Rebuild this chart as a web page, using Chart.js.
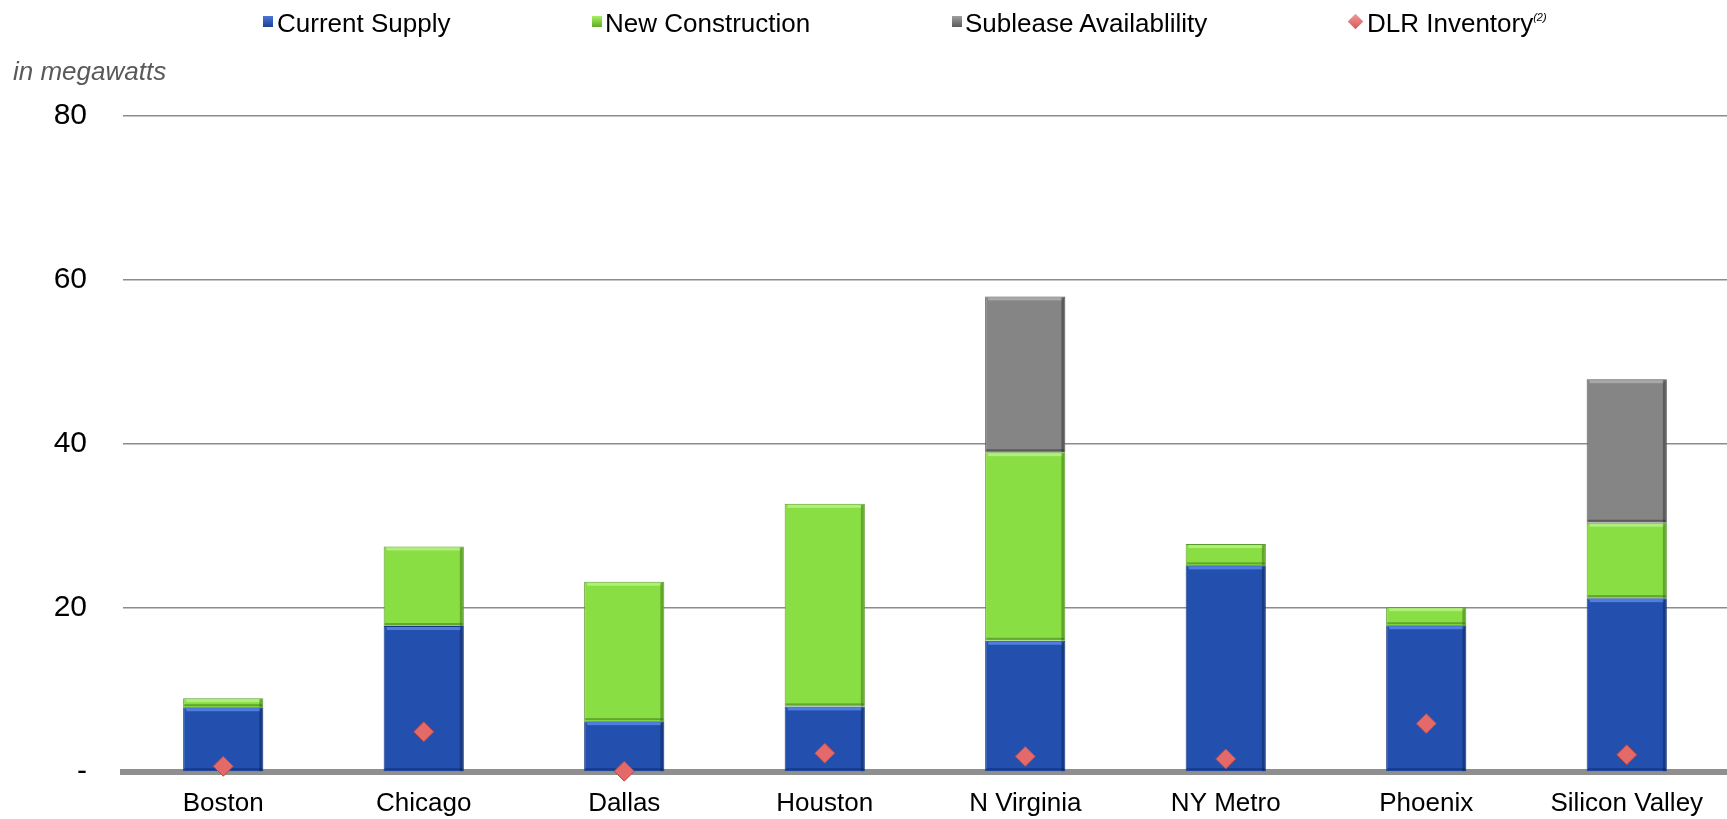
<!DOCTYPE html>
<html>
<head>
<meta charset="utf-8">
<script src="https://cdn.jsdelivr.net/npm/chart.js@4/dist/chart.umd.min.js"></script>
<style>
  body { margin: 0; background: #fff; font-family: "Liberation Sans", Arial, sans-serif; }
  #wrap { position: relative; width: 1727px; height: 819px; }
  #myChart { position: absolute; left: 0; top: 0; }
  .leg { position: absolute; top: 8px; font-size: 26px; color: #000; white-space: nowrap; line-height: 30px; height: 30px; }
  .box { position: absolute; top: 16px; width: 10px; height: 11px; }
  .diamond { position: absolute; top: 16px; width: 11px; height: 11px; transform: rotate(45deg);
    background: linear-gradient(135deg, #f29a9a, #d85858); }
  .unit { position: absolute; left: 13px; top: 56px; font-size: 26px; font-style: italic; color: #595959; }
  .sup { font-size: 11px; font-style: italic; position: relative; top: -11px; line-height: 0; }
</style>
</head>
<body>
<div id="wrap">
  <canvas id="myChart" width="1727" height="819"></canvas>
  <div class="box" style="left:263px;background:linear-gradient(#4a78d8,#1c3f94);"></div>
  <div class="leg" style="left:277px;">Current Supply</div>
  <div class="box" style="left:592px;background:linear-gradient(#a8f060,#5faa28);"></div>
  <div class="leg" style="left:605px;">New Construction</div>
  <div class="box" style="left:952px;background:linear-gradient(#a0a0a0,#5a5a5a);"></div>
  <div class="leg" style="left:965px;">Sublease Availablility</div>
  <div class="diamond" style="left:1350px;"></div>
  <div class="leg" style="left:1367px;">DLR Inventory<span class="sup">(2)</span></div>
  <div class="unit">in megawatts</div>
</div>
<script>
const markets = ['Boston', 'Chicago', 'Dallas', 'Houston', 'N Virginia', 'NY Metro', 'Phoenix', 'Silicon Valley'];
const currentSupply = [7.9, 17.8, 6.2, 8.0, 16.0, 25.2, 17.9, 21.2];
const newConstruction = [1.1, 9.7, 17.0, 24.7, 23.0, 2.6, 2.2, 9.2];
const subleaseAvail = [null, null, null, null, 19.0, null, null, 17.5];
const dlrInventory = [0.7, 4.9, 0.1, 2.3, 1.9, 1.6, 5.9, 2.1];

// fake bevel on each bar, drawn right after its dataset
const bevel = {
  id: 'bevel',
  afterDatasetDraw(chart, args) {
    const meta = args.meta;
    if (meta.type !== 'bar') return;
    const ctx = chart.ctx;
    const ds = meta.controller.getDataset();
    ctx.save();
    meta.data.forEach((bar, i) => {
      if (ds.data[i] == null) return;
      const p = bar.getProps(['x', 'y', 'base', 'width'], true);
      const l = p.x - p.width / 2, r = p.x + p.width / 2;
      const t = p.y, b = p.base;
      if (b - t < 4) return;
      ctx.fillStyle = ds.hiColor;
      ctx.fillRect(l + 3, t + 1, p.width - 6, 3);
      ctx.fillStyle = ds.loColor;
      ctx.fillRect(r - 4, t + 1, 3, b - t - 1);
      ctx.fillRect(l + 1, b - 3, p.width - 2, 2);
    });
    ctx.restore();
  }
};

new Chart(document.getElementById('myChart').getContext('2d'), {
  type: 'bar',
  data: {
    labels: markets,
    datasets: [{
      label: 'Current Supply',
      data: currentSupply,
      backgroundColor: '#2350ae',
      borderColor: '#183a82',
      borderWidth: 1,
      hiColor: '#4f7ee0',
      loColor: 'rgba(10,30,80,0.45)',
      stack: 'mw',
      order: 1
    },
    {
      label: 'New Construction',
      data: newConstruction,
      backgroundColor: '#88de42',
      borderColor: '#5a9c2a',
      borderWidth: 1,
      hiColor: '#aef07a',
      loColor: 'rgba(50,100,20,0.45)',
      stack: 'mw',
      order: 1
    },
    {
      label: 'Sublease Availablility',
      data: subleaseAvail,
      backgroundColor: '#858585',
      borderColor: '#555555',
      borderWidth: 1,
      hiColor: '#a8a8a8',
      loColor: 'rgba(40,40,40,0.45)',
      stack: 'mw',
      order: 1
    },
    {
      type: 'line',
      label: 'DLR Inventory',
      data: dlrInventory,
      showLine: false,
      pointStyle: 'rectRot',
      pointRadius: 10,
      pointHoverRadius: 10,
      pointBackgroundColor: '#e46a6a',
      pointBorderColor: '#b84848',
      pointBorderWidth: 1,
      stack: 'dlr',
      order: 0,
      clip: false
    }]
  },
  options: {
    responsive: false,
    animation: false,
    layout: { autoPadding: false, padding: { top: 116, left: 0, right: 0, bottom: 0 } },
    plugins: {
      legend: { display: false },
      tooltip: { enabled: false }
    },
    datasets: {
      bar: { categoryPercentage: 1, barPercentage: 0.4 }
    },
    scales: {
      x: {
        stacked: true,
        grid: { display: false, drawTicks: false },
        border: { display: true, color: '#8f8f8f', width: 6 },
        ticks: { color: '#000', padding: 16, font: { family: 'Liberation Sans', size: 26 } },
        afterFit(scale) { scale.height = 47; }
      },
      y: {
        stacked: true,
        min: 0,
        max: 80,
        grid: { color: '#8c8c8c', lineWidth: 1.5, drawTicks: false },
        border: { display: false },
        ticks: {
          stepSize: 20,
          padding: 36,
          color: '#000',
          font: { family: 'Liberation Sans', size: 30 },
          callback: (v) => v === 0 ? '-' : v
        },
        afterFit(scale) {
          scale.width = 123;
          scale.paddingTop = 0;
          scale.paddingBottom = 0;
        }
      }
    }
  },
  plugins: [bevel]
});
</script>
</body>
</html>
